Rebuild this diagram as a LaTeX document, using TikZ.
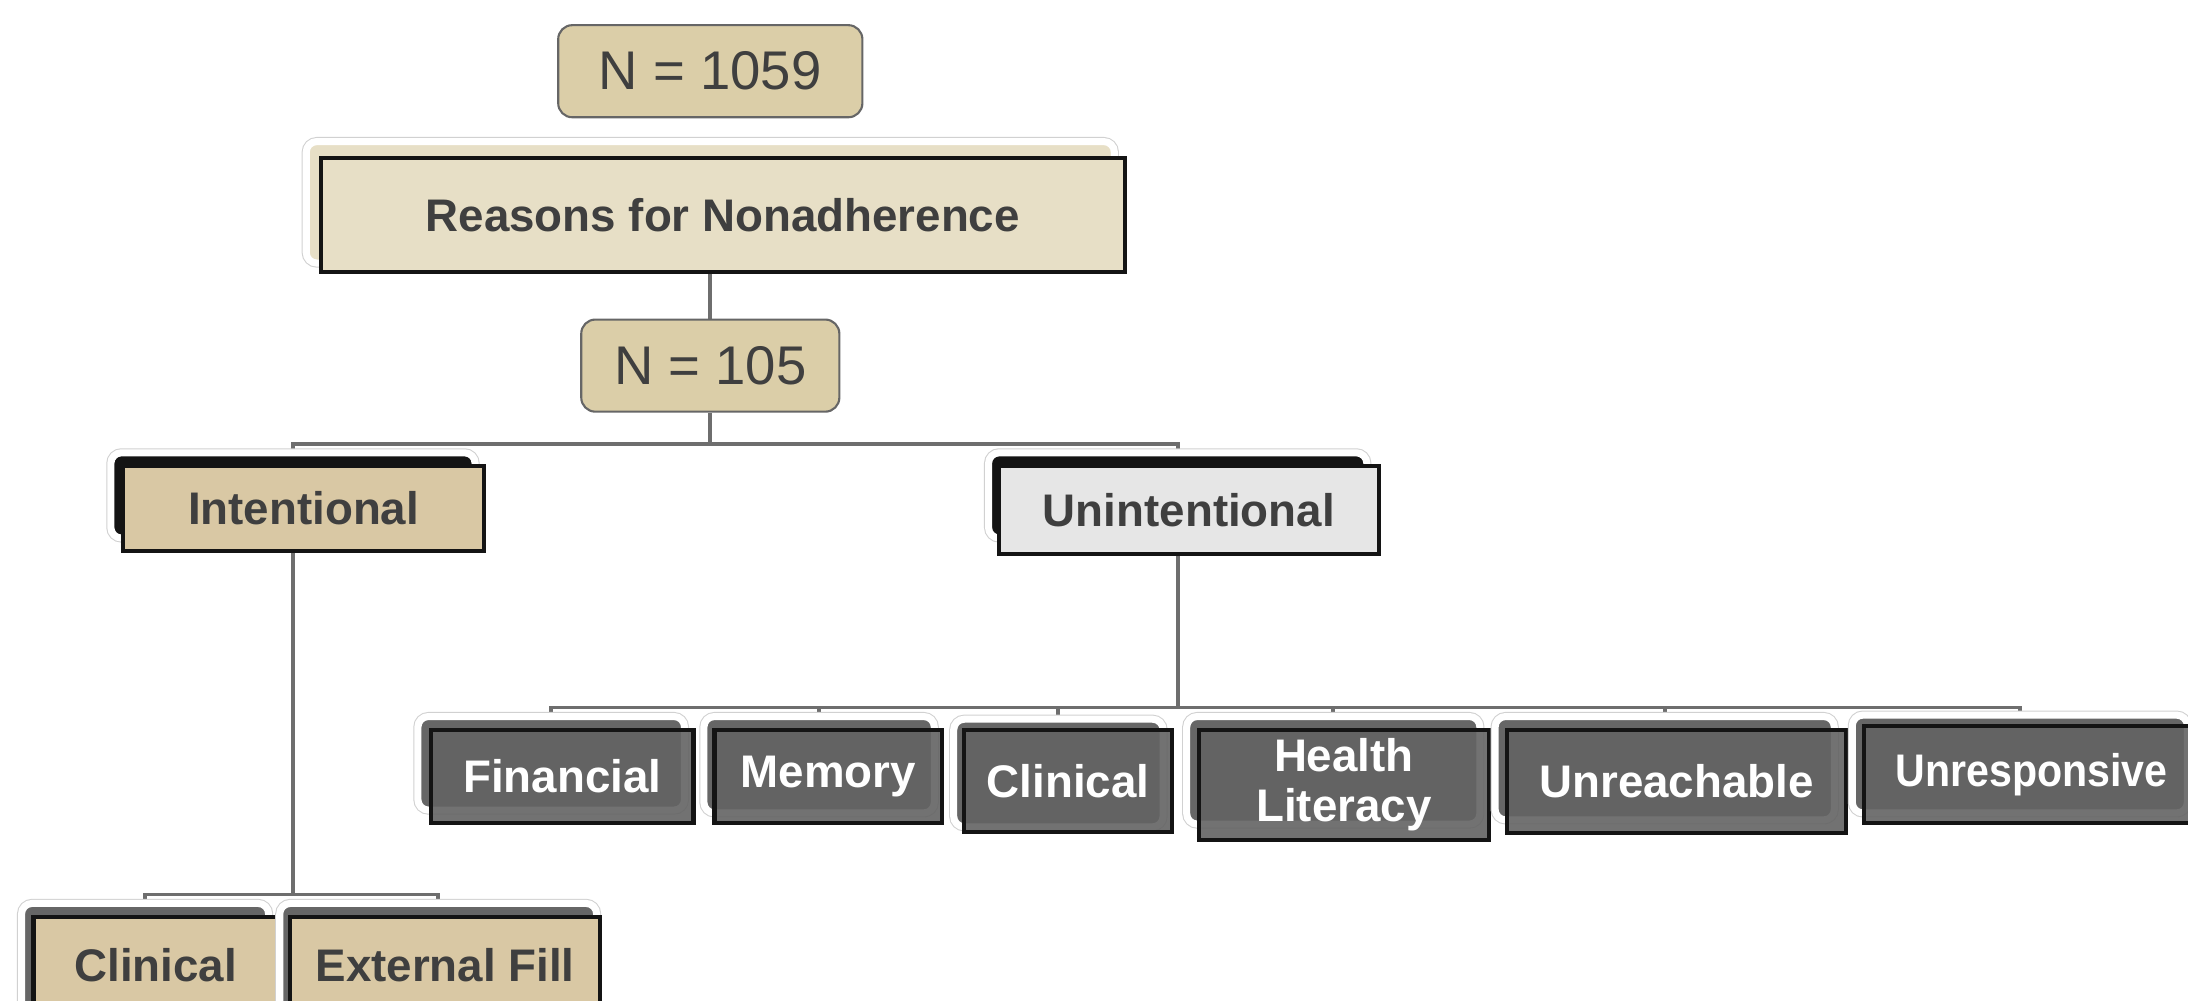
\documentclass[tikz,border=0pt]{standalone}
\usepackage{fontspec}
\setmainfont{Liberation Sans}
\usetikzlibrary{backgrounds}
\definecolor{countbeige}{HTML}{DBCEA8}
\definecolor{titlebeige}{HTML}{E7DFC6}
\definecolor{tanfill}{HTML}{D9C8A4}
\definecolor{palegrey}{HTML}{E6E6E6}
\definecolor{midgrey}{HTML}{666666}
\definecolor{boxgrey}{HTML}{636363}
\definecolor{textgrey}{HTML}{3F3F3F}
\definecolor{linegrey}{HTML}{6E6E6E}
\newcommand{\countfnt}{\fontsize{15.5}{18}\selectfont}
\newcommand{\labelfnt}{\fontsize{13}{14.3}\selectfont\bfseries}

\begin{document}
\begin{tikzpicture}[every node/.style={inner sep=0pt,align=center,text=textgrey},
  countbox/.style={rounded corners=4pt,fill=countbeige,draw=black!60,line width=0.6pt,font=\countfnt},
  backbox/.style={rounded corners=3pt,fill=#1,draw=white,line width=2pt,preaction={draw=black!18,line width=2.6pt}},
  frontbox/.style={fill=#1,draw=black!92,line width=1.2pt,font=\labelfnt},
  greybox/.style={frontbox=boxgrey,fill opacity=0.9,text opacity=1,text=white},
  conn/.style={draw=linegrey,line width=1.1pt}]
\useasboundingbox (0,0) rectangle (21.88,-10.005);
% totals and title
\node[countbox,minimum width=3.042cm,minimum height=0.921cm] (n1059) at (7.103,-0.712) {N = 1059};
\node[backbox=titlebeige,minimum width=8.081cm,minimum height=1.215cm] (rsn-b) at (7.103,-2.023) {};
\node[frontbox=titlebeige,minimum width=8.038cm,minimum height=1.144cm] (rsn) at (7.228,-2.149) {Reasons for Nonadherence};
\node[countbox,minimum width=2.581cm,minimum height=0.921cm] (n105) at (7.103,-3.656) {N = 105};
% two main branches
\node[backbox=black!92,minimum width=3.643cm,minimum height=0.852cm] (int-b) at (2.930,-4.954) {};
\node[frontbox=tanfill,minimum width=3.614cm,minimum height=0.851cm] (int) at (3.035,-5.086) {Intentional};
\node[backbox=black!92,minimum width=3.783cm,minimum height=0.852cm] (uni-b) at (11.777,-4.954) {};
\node[frontbox=palegrey,minimum width=3.795cm,minimum height=0.879cm] (uni) at (11.889,-5.100) {Unintentional};
% unintentional reasons
\node[backbox=midgrey,minimum width=2.666cm,minimum height=0.936cm] (fin-b) at (5.512,-7.633) {};
\node[greybox,minimum width=2.623cm,minimum height=0.935cm] (fin) at (5.623,-7.766) {Financial};
\node[backbox=midgrey,minimum width=2.304cm,minimum height=0.964cm] (mem-b) at (8.191,-7.647) {};
\node[greybox,minimum width=2.275cm,minimum height=0.935cm] (mem) at (8.282,-7.766) {Memory};
\node[backbox=midgrey,minimum width=2.094cm,minimum height=1.076cm] (ucl-b) at (10.584,-7.730) {};
\node[greybox,minimum width=2.079cm,minimum height=1.019cm] (ucl) at (10.682,-7.807) {Clinical};
\node[backbox=midgrey,minimum width=2.932cm,minimum height=1.076cm] (hlt-b) at (13.333,-7.703) {};
\node[greybox,minimum width=2.902cm,minimum height=1.102cm] (hlt) at (13.438,-7.849) {Health\\Literacy};
\node[backbox=midgrey,minimum width=3.392cm,minimum height=1.034cm] (urc-b) at (16.647,-7.682) {};
\node[greybox,minimum width=3.391cm,minimum height=1.033cm] (urc) at (16.766,-7.814) {Unreachable};
\node[backbox=midgrey,minimum width=3.350cm,minimum height=0.978cm] (urs-b) at (20.198,-7.640) {};
\node[greybox,minimum width=3.349cm,minimum height=0.977cm] (urs) at (20.317,-7.745) {\addfontfeature{FakeStretch=0.9}Unresponsive};
% intentional reasons
\node[backbox=midgrey,minimum width=2.471cm,minimum height=1.076cm] (icl-b) at (1.451,-9.572) {};
\node[frontbox=tanfill,minimum width=2.442cm,minimum height=0.977cm] (icl) at (1.556,-9.656) {Clinical};
\node[backbox=midgrey,minimum width=3.169cm,minimum height=1.076cm] (ext-b) at (4.382,-9.572) {};
\node[frontbox=tanfill,minimum width=3.098cm,minimum height=0.977cm] (ext) at (4.451,-9.656) {External Fill};
% connectors behind the boxes
\begin{pgfonlayer}{background}
\draw[conn] (rsn-b.south) -- (n105.north);
\draw[conn] (n105.south) -- ++(0,-0.31) coordinate (top-j) -| (int-b.north);
\draw[conn] (top-j) -| (uni-b.north);
\draw[conn] (int-b.south) -- ++(0,-3.53) coordinate (int-j) -| (icl-b.north);
\draw[conn] (int-j) -| (ext-b.north);
\draw[conn] (uni-b.south) -- ++(0,-1.66) coordinate (uni-j) -| (fin-b.north);
\foreach \b in {mem-b,ucl-b,hlt-b,urc-b,urs-b} \draw[conn] (uni-j) -| (\b.north);
\end{pgfonlayer}
\end{tikzpicture}
\end{document}
